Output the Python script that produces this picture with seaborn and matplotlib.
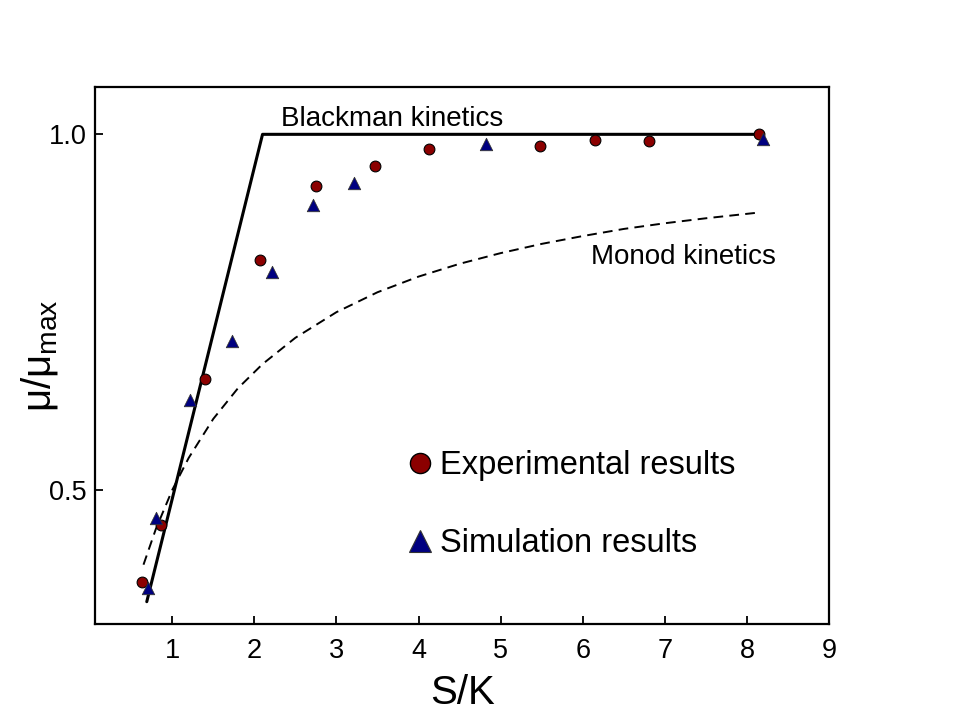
import numpy as np
import pandas as pd
import seaborn as sns
import matplotlib.pyplot as plt
from matplotlib.lines import Line2D

# experimental points
exp_x = [0.63, 0.865, 1.40, 2.07, 2.75, 3.47, 4.13, 5.48, 6.15, 6.81, 8.15]
exp_y = [0.370, 0.451, 0.656, 0.823, 0.928, 0.956, 0.979, 0.984, 0.992, 0.990, 1.000]

# simulation points
sim_x = [0.70, 0.80, 1.22, 1.73, 2.21, 2.71, 3.22, 4.82, 8.19]
sim_y = [0.362, 0.461, 0.626, 0.709, 0.806, 0.901, 0.931, 0.986, 0.993]

# Blackman kinetics line
black_x = [0.69, 2.10, 8.10]
black_y = [0.343, 1.000, 1.000]

# Monod kinetics (dashed curve)
monod_x = [0.65, 0.8, 1.0, 1.2, 1.5, 1.8, 2.1, 2.5, 3.0, 3.5, 4.0, 4.5,
           5.0, 5.5, 6.0, 6.5, 7.0, 7.5, 8.14]
monod_y = [0.395, 0.445, 0.500, 0.545, 0.600, 0.643, 0.677, 0.714, 0.750,
           0.778, 0.800, 0.818, 0.833, 0.846, 0.857, 0.867, 0.875, 0.882, 0.890]

sns.set_style("ticks")
plt.rcParams['font.family'] = ['Liberation Sans', 'DejaVu Sans']
plt.rcParams['mathtext.fontset'] = 'custom'
plt.rcParams['mathtext.rm'] = 'Liberation Sans'
plt.rcParams['mathtext.it'] = 'Liberation Sans'
for k in ['text.color', 'axes.labelcolor', 'xtick.color', 'ytick.color']:
    plt.rcParams[k] = 'black'

fig = plt.figure(figsize=(9.63, 7.21), dpi=100)
ax = fig.add_axes([0.0987, 0.1345, 0.7622, 0.7448])

sns.lineplot(x=black_x, y=black_y, color='black', linewidth=2.2, ax=ax)
sns.lineplot(x=monod_x, y=monod_y, color='black', linewidth=1.4,
             linestyle=(0, (5, 3.2)), ax=ax)

sns.scatterplot(x=exp_x, y=exp_y, marker='o', s=60, color='#8b0000',
                edgecolor='black', linewidth=0.8, zorder=3, ax=ax)
sns.scatterplot(x=sim_x, y=sim_y, marker='^', s=80, color='#000080',
                edgecolor='#333333', linewidth=0.6, zorder=3, ax=ax)

ax.set_xlim(0.06, 9.0)
ax.set_ylim(0.3116, 1.0665)
ax.set_xticks(range(1, 10))
ax.set_yticks([0.5, 1.0])
ax.set_yticklabels(['0.5', '1.0'])
ax.tick_params(direction='in', length=6, width=1.3, labelsize=19.5)
ax.tick_params(axis='x', pad=10)
ax.tick_params(axis='y', pad=6)
for sp in ax.spines.values():
    sp.set_linewidth(1.6)
    sp.set_color('black')

ax.set_xlabel('S/K', fontsize=29)
ax.set_ylabel(r'$\mu/\mu_{\rm max}$', fontsize=29)
ax.xaxis.set_label_coords(0.5, -0.093)
ax.yaxis.set_label_coords(-0.048, 0.5)

ax.text(2.33, 1.022, 'Blackman kinetics', fontsize=20, va='center', ha='left')
ax.text(6.10, 0.8275, 'Monod kinetics', fontsize=20, va='center', ha='left')

handles = [
    Line2D([], [], linestyle='none', marker='o', markersize=14.5,
           markerfacecolor='#8b0000', markeredgecolor='black', markeredgewidth=1),
    Line2D([], [], linestyle='none', marker='^', markersize=16,
           markerfacecolor='#000080', markeredgecolor='#333333', markeredgewidth=0.8),
]
ax.legend(handles, ['Experimental results', 'Simulation results'],
          loc='center left', bbox_to_anchor=(0.423, 0.222), frameon=False,
          fontsize=23.5, handlelength=0.9, handletextpad=0.15,
          labelspacing=1.43, borderpad=0, borderaxespad=0)

fig.savefig('out.png', dpi=100)
